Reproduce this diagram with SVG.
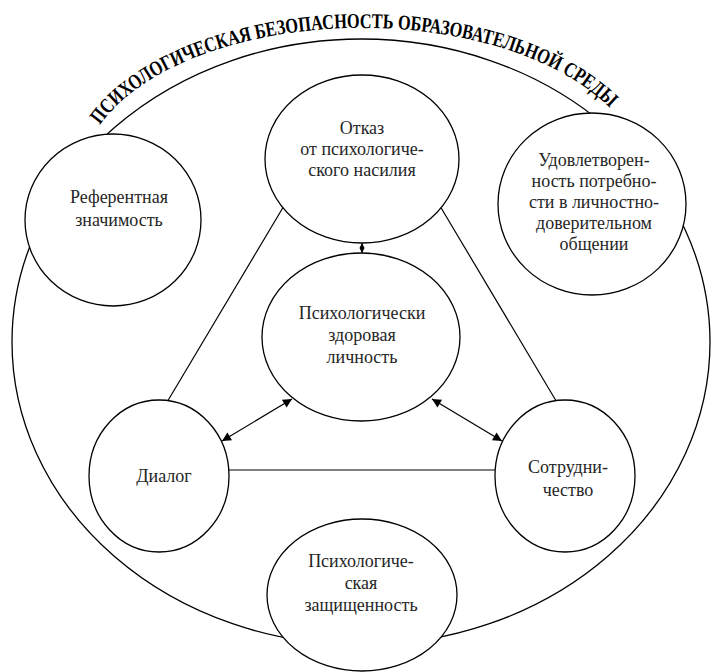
<svg xmlns="http://www.w3.org/2000/svg" width="711" height="672" viewBox="0 0 711 672">
<defs>
<style>
.shape{fill:#fff;stroke:#000;stroke-width:1.3}
.ln{stroke:#000;stroke-width:1.2;fill:none}
.t{font-family:"Liberation Serif","Times New Roman",serif;font-size:18px;fill:#262626;text-anchor:middle}
.title{font-family:"Liberation Serif","Times New Roman",serif;font-size:21px;font-weight:bold;fill:#000}
</style>
<marker id="ah" viewBox="0 0 10 10" refX="10" refY="5" markerWidth="11" markerHeight="9" markerUnits="userSpaceOnUse" orient="auto-start-reverse"><path d="M0,0 L10,5 L0,10 z" fill="#000"/></marker>
<marker id="ahs" viewBox="0 0 10 10" refX="10" refY="5" markerWidth="5" markerHeight="7" markerUnits="userSpaceOnUse" orient="auto-start-reverse"><path d="M0,0 L10,5 L0,10 z" fill="#000"/></marker>
<path id="arc" d="M100,125 A280,150 0 0 1 624,125"/>
</defs>
<rect width="711" height="672" fill="#fff"/>
<g id="title">
<text class="title"><textPath href="#arc" textLength="555" lengthAdjust="spacingAndGlyphs">ПСИХОЛОГИЧЕСКАЯ БЕЗОПАСНОСТЬ ОБРАЗОВАТЕЛЬНОЙ СРЕДЫ</textPath></text>
</g>
<g id="outer"><ellipse class="shape" cx="361" cy="342" rx="349" ry="303"/></g>
<g id="n-refer"><ellipse class="shape" cx="113" cy="220" rx="88" ry="86"/>
<text class="t" x="119" y="203">Референтная</text><text class="t" x="119" y="226">значимость</text></g>
<g id="n-otkaz"><ellipse class="shape" cx="362" cy="159" rx="97" ry="84"/>
<text class="t" x="362" y="134">Отказ</text><text class="t" x="362" y="155">от психологиче-</text><text class="t" x="362" y="176">ского насилия</text></g>
<g id="n-udovl"><ellipse class="shape" cx="592" cy="204" rx="94" ry="91"/>
<text class="t" x="594" y="166">Удовлетворен-</text><text class="t" x="594" y="187">ность потребно-</text><text class="t" x="594" y="208">сти в личностно-</text><text class="t" x="594" y="229">доверительном</text><text class="t" x="594" y="250">общении</text></g>
<g id="n-center"><ellipse class="shape" cx="361" cy="337" rx="99" ry="84"/>
<text class="t" x="362" y="319">Психологически</text><text class="t" x="362" y="341">здоровая</text><text class="t" x="362" y="363">личность</text></g>
<g id="n-dialog"><ellipse class="shape" cx="159" cy="476" rx="70" ry="76"/>
<text class="t" x="164" y="482">Диалог</text></g>
<g id="n-sotr"><ellipse class="shape" cx="565" cy="476" rx="70" ry="76"/>
<text class="t" x="568" y="473">Сотрудни-</text><text class="t" x="568" y="496">чество</text></g>
<g id="n-bottom"><ellipse class="shape" cx="362" cy="595" rx="95" ry="76"/>
<text class="t" x="361" y="567">Психологиче-</text><text class="t" x="361" y="589">ская</text><text class="t" x="361" y="611">защищенность</text></g>
<g id="connectors">
<line class="ln" x1="283" y1="207.5" x2="168" y2="400.5"/>
<line class="ln" x1="441" y1="207.7" x2="556" y2="400.7"/>
<line class="ln" x1="228.8" y1="470" x2="495.2" y2="470"/>
<line class="ln" x1="362" y1="243" x2="362" y2="253" marker-start="url(#ahs)" marker-end="url(#ahs)"/>
<line class="ln" x1="222" y1="441" x2="292" y2="399" marker-start="url(#ah)" marker-end="url(#ah)"/>
<line class="ln" x1="432" y1="399" x2="502" y2="441" marker-start="url(#ah)" marker-end="url(#ah)"/>
</g>
</svg>
